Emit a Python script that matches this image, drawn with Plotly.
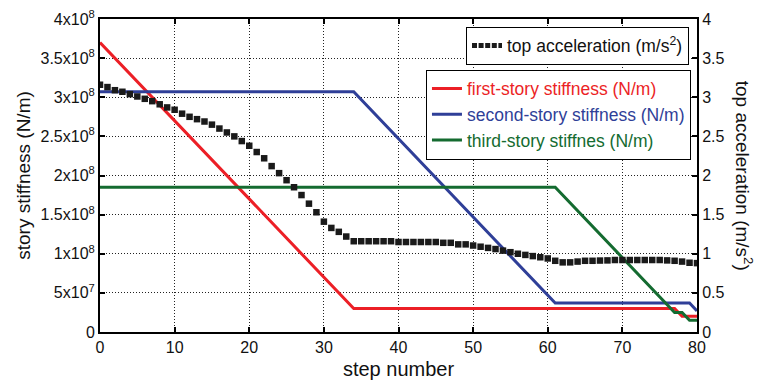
import plotly.graph_objects as go

# stiffness of each storey (N/m): breakpoints of the piecewise-linear histories
red_steps = [0, 34, 77, 78, 80]
red_vals = [3.7e8, 3.0e7, 3.0e7, 2.0e7, 2.0e7]
blue_steps = [0, 34, 61, 79, 80]
blue_vals = [3.07e8, 3.07e8, 3.7e7, 3.7e7, 2.7e7]
green_steps = [0, 61, 77, 78, 79, 80]
green_vals = [1.85e8, 1.85e8, 2.5e7, 2.5e7, 1.5e7, 1.5e7]

# top-floor acceleration (m/s^2) at every step 0..80
acc_steps = list(range(81))
acc_vals = [
    3.16, 3.13, 3.09, 3.07, 3.04, 3.01, 2.98, 2.95, 2.91, 2.87,
    2.84, 2.79, 2.75, 2.72, 2.69, 2.65, 2.60, 2.55, 2.50, 2.44,
    2.38, 2.30, 2.22, 2.12, 2.03, 1.94, 1.85, 1.75, 1.64, 1.53,
    1.41, 1.33, 1.28, 1.22, 1.16, 1.16, 1.16, 1.16, 1.16, 1.16,
    1.15, 1.15, 1.15, 1.15, 1.15, 1.15, 1.14, 1.14, 1.12, 1.12,
    1.105, 1.09, 1.075, 1.06, 1.04, 1.02, 1.00, 0.985, 0.97, 0.955,
    0.94, 0.91, 0.89, 0.89, 0.90, 0.91, 0.91, 0.913, 0.915, 0.92,
    0.92, 0.92, 0.92, 0.92, 0.92, 0.92, 0.915, 0.91, 0.90, 0.885,
    0.88,
]

x_ticks = [0, 10, 20, 30, 40, 50, 60, 70, 80]
y1_ticks = [0, 5e7, 1e8, 1.5e8, 2e8, 2.5e8, 3e8, 3.5e8, 4e8]
y1_labels = ["0", "5x10<sup>7</sup>", "1x10<sup>8</sup>", "1.5x10<sup>8</sup>",
             "2x10<sup>8</sup>", "2.5x10<sup>8</sup>", "3x10<sup>8</sup>",
             "3.5x10<sup>8</sup>", "4x10<sup>8</sup>"]
y2_ticks = [0, 0.5, 1, 1.5, 2, 2.5, 3, 3.5, 4]
y2_labels = ["0", "0.5", "1", "1.5", "2", "2.5", "3", "3.5", "4"]

RED, BLUE, GREEN = "#ec1f26", "#2f3f98", "#146b30"
FONT = "Liberation Sans, Arial, sans-serif"

fig = go.Figure()

for steps, vals, col, label in [
    (red_steps, red_vals, RED, "first-story stiffness (N/m)"),
    (blue_steps, blue_vals, BLUE, "second-story stiffness (N/m)"),
    (green_steps, green_vals, GREEN, "third-story stiffnes (N/m)"),
]:
    fig.add_trace(go.Scatter(
        x=steps, y=vals, mode="lines",
        line=dict(color=col, width=3),
        name=f"<span style='color:{col}'>{label}</span>",
        legend="legend2", yaxis="y",
    ))

fig.add_trace(go.Scatter(
    x=acc_steps, y=acc_vals, mode="markers", yaxis="y2",
    marker=dict(symbol="square", size=6.5, color="#1a1a1a"),
    showlegend=False,
))
# legend entry for the acceleration series (square-dotted sample)
fig.add_trace(go.Scatter(
    x=[None], y=[None], mode="lines", yaxis="y2",
    line=dict(color="#1a1a1a", width=5, dash="5px,1.6px"),
    name="top acceleration (m/s<sup>2</sup>)", legend="legend",
))

axis_common = dict(
    showline=True, linecolor="black", linewidth=2,
    ticks="inside", ticklen=5, tickwidth=1.5, tickcolor="black",
    tickfont=dict(family=FONT, size=16, color="#111"),
    zeroline=False, automargin=False,
)
grid = dict(showgrid=True, gridcolor="#222", griddash="1px,2px", gridwidth=1)

fig.update_layout(
    width=762, height=384,
    margin=dict(l=100, r=65, t=19, b=52),
    paper_bgcolor="white", plot_bgcolor="white",
    font=dict(family=FONT, color="#111"),
    xaxis=dict(
        range=[0, 80], tickvals=x_ticks, mirror="ticks",
        title=dict(text="step number", font=dict(size=20), standoff=7),
        **grid, **axis_common,
    ),
    yaxis=dict(
        range=[0, 4e8], tickvals=y1_ticks, ticktext=y1_labels,
        title=dict(text="story stiffness (N/m)", font=dict(size=19), standoff=5),
        **grid, **axis_common,
    ),
    yaxis2=dict(
        range=[0, 4], tickvals=y2_ticks, ticktext=y2_labels,
        overlaying="y", side="right", showgrid=False,
        **axis_common,
    ),
    legend=dict(
        x=0.9866, y=0.976, xanchor="right", yanchor="top",
        bgcolor="white", bordercolor="black", borderwidth=1,
        font=dict(family=FONT, size=17.5, color="#111"),
        tracegroupgap=0,
    ),
    legend2=dict(
        x=0.546, y=0.838, xanchor="left", yanchor="top",
        bgcolor="white", bordercolor="black", borderwidth=1,
        font=dict(family=FONT, size=17.5),
        tracegroupgap=0,
    ),
    annotations=[dict(
        text="top acceleration (m/s<sup>2</sup>)", textangle=90,
        xref="paper", yref="paper", x=1.08, y=0.5,
        xanchor="center", yanchor="middle", showarrow=False,
        font=dict(family=FONT, size=19, color="#111"),
    )],
)

fig.write_html("out.html")
